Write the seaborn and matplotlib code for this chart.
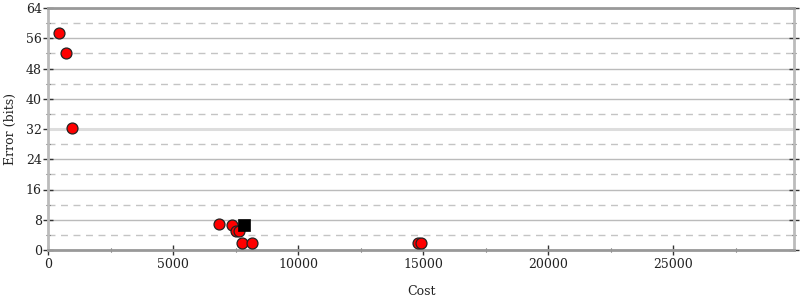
import matplotlib
matplotlib.use("Agg")
import matplotlib.pyplot as plt
import seaborn as sns
import pandas as pd
from matplotlib.ticker import MultipleLocator

# Data
cost_red = [440, 720, 960, 6850, 7370, 7520, 7640, 7770, 8160, 14800, 14930]
err_red = [57.4, 52.1, 32.3, 6.9, 6.6, 5.1, 5.1, 1.8, 1.8, 1.8, 1.8]
cost_black = [7850]
err_black = [6.6]

x_ticks = [0, 5000, 10000, 15000, 20000, 25000]
y_ticks = [0, 8, 16, 24, 32, 40, 48, 56, 64]

sns.set_style("white")
plt.rcParams['font.family'] = ['DejaVu Serif']

df_red = pd.DataFrame({"Cost": cost_red, "Error": err_red})
df_black = pd.DataFrame({"Cost": cost_black, "Error": err_black})

fig = plt.figure(figsize=(8, 3), dpi=100)
ax = fig.add_axes([48/800, 50/300, (794-48)/800, (250-8)/300])

ax.set_xlim(0, 29840)
ax.set_ylim(0, 64)
ax.set_xticks(x_ticks)
ax.set_yticks(y_ticks)
ax.xaxis.set_minor_locator(MultipleLocator(2500))
ax.yaxis.set_minor_locator(MultipleLocator(4))

ax.grid(False)
ax.yaxis.grid(True, which='major', color='#bbbbbb', linewidth=1, linestyle='-')
ax.yaxis.grid(True, which='minor', color='#c4c4c4', linewidth=1, linestyle=(0, (5, 4)))
ax.set_axisbelow(True)
ax.axhline(32, color='#dddddd', linewidth=2.2, zorder=1.5)

sns.scatterplot(data=df_red, x="Cost", y="Error", ax=ax, marker='o', s=62,
                color='#ff0000', edgecolor='#222222', linewidth=0.9, zorder=3, clip_on=False)
sns.scatterplot(data=df_black, x="Cost", y="Error", ax=ax, marker='s', s=80,
                color='#000000', edgecolor='#000000', linewidth=0.5, zorder=4)

for side in ['left', 'right']:
    ax.spines[side].set_color('#bbbbbb')
    ax.spines[side].set_linewidth(2)
for side in ['top', 'bottom']:
    ax.spines[side].set_color('#999999')
    ax.spines[side].set_linewidth(2)

ax.tick_params(axis='both', which='major', direction='inout', length=7, width=1,
               color='#333333', labelsize=9, labelcolor='#222222')
ax.tick_params(axis='both', which='minor', direction='inout', length=3.5, width=0.8,
               color='#555555')
ax.tick_params(axis='y', which='both', left=True, right=True, labelright=False, pad=1)
ax.tick_params(axis='x', which='both', bottom=True, top=False, pad=2)

ax.set_xlabel("Cost", fontsize=9, color='#222222', labelpad=10)
ax.set_ylabel("Error (bits)", fontsize=9, color='#222222', labelpad=6)

fig.savefig("out.png", dpi=100)
